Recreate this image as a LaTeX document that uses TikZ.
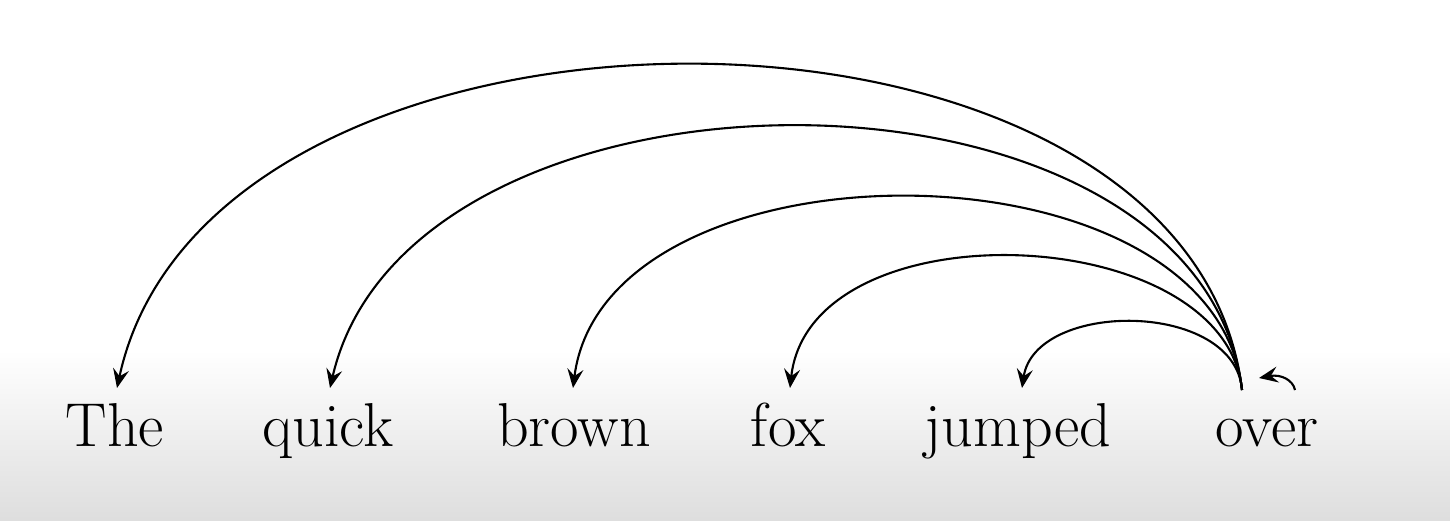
\documentclass[tikz,border=0pt]{standalone}
\usetikzlibrary{arrows.meta}
\begin{document}
\begin{tikzpicture}[x=1pt,y=-1pt,
  word/.style={anchor=base,inner sep=0pt,font=\fontsize{62}{70}\selectfont},
  arc/.style={line width=2.1pt,-{Stealth[length=19pt,width=16pt,inset=7pt]}}]
\useasboundingbox (0,0) rectangle (1450,520);
\fill[white] (0,0) rectangle (1450,350);
\shade[top color=white,bottom color=black!13] (0,350) rectangle (1450,520);
\node[word] (The) at (115,446) {The};
\node[word] (quick) at (328,446) {quick};
\node[word] (brown) at (574,446) {brown};
\node[word] (fox) at (788,446) {fox};
\node[word] (jumped) at (1018,446) {jumped};
\node[word] (over) at (1267,446) {over};
\coordinate (src) at ([xshift=-25pt,yshift=56pt]over.base);
\draw[arc] (src) .. controls (1190,-43) and (210,-43) .. ([xshift=2pt,yshift=58pt]The.base);
\draw[arc] (src) .. controls (1200,39) and (410,39) .. ([xshift=2pt,yshift=58pt]quick.base);
\draw[arc] (src) .. controls (1215,133) and (605,133) .. ([xshift=-1pt,yshift=58pt]brown.base);
\draw[arc] (src) .. controls (1225,220) and (810,205) .. ([xshift=2pt,yshift=58pt]fox.base);
\draw[arc] (src) .. controls (1235,300) and (1035,300) .. ([xshift=4pt,yshift=58pt]jumped.base);
\draw[arc] ([xshift=28pt,yshift=56pt]over.base) .. controls ([xshift=26pt,yshift=66pt]over.base) and ([xshift=14pt,yshift=72pt]over.base) .. ([xshift=-8pt,yshift=68pt]over.base);
\end{tikzpicture}
\end{document}
